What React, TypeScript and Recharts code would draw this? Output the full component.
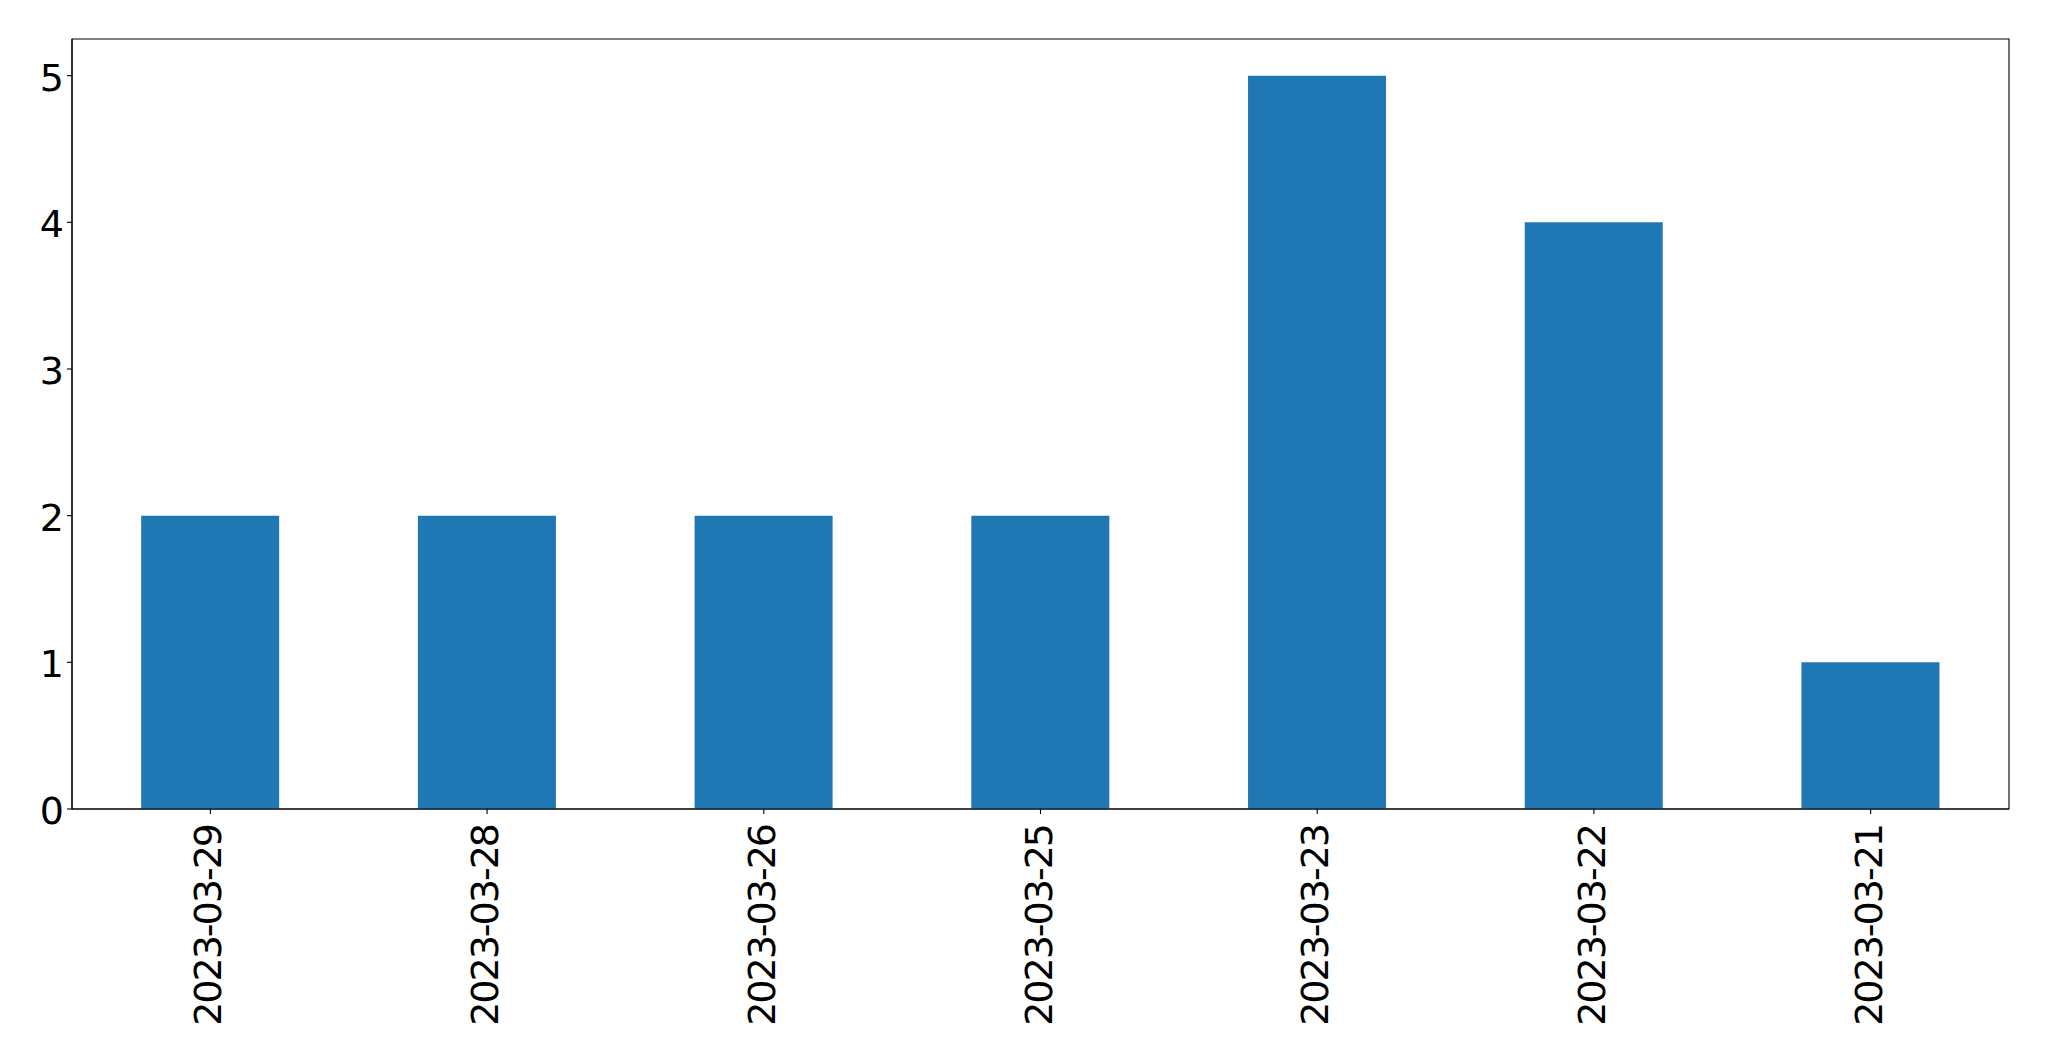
import { BarChart, Bar, XAxis, YAxis, ReferenceArea } from 'recharts';

const dates = ['2023-03-29', '2023-03-28', '2023-03-26', '2023-03-25', '2023-03-23', '2023-03-22', '2023-03-21'];
const counts = [2, 2, 2, 2, 5, 4, 1];
const yTicks = [0, 1, 2, 3, 4, 5];

const data = dates.map((date, i) => ({ date, count: counts[i] }));

const font = '"DejaVu Sans", sans-serif';

// rotated date labels, read bottom to top
function DateTick(props: any) {
  const { x, y, payload } = props;
  return (
    <text
      transform={`translate(${x},${y}) rotate(-90)`}
      textAnchor="end"
      dominantBaseline="central"
      dy={-2}
      fontFamily={font}
      fontSize={38}
      letterSpacing={-2}
      fill="#000"
    >
      {payload.value}
    </text>
  );
}

function CountTick(props: any) {
  const { x, y, payload } = props;
  return (
    <text
      x={x}
      y={y}
      dy={2}
      textAnchor="end"
      dominantBaseline="central"
      fontFamily={font}
      fontSize={38}
      fill="#000"
    >
      {payload.value}
    </text>
  );
}

export default function App() {
  return (
    <div style={{ position: 'absolute', left: 0, top: 0, background: '#fff' }}>
      <BarChart
        width={2049}
        height={1061}
        data={data}
        margin={{ top: 39, right: 40, left: 0, bottom: 0 }}
        barCategoryGap="25%"
      >
        <XAxis
          dataKey="date"
          height={252}
          tickSize={5}
          tickMargin={11}
          interval={0}
          stroke="#000"
          strokeWidth={1.1}
          tick={<DateTick />}
        />
        <YAxis
          width={72}
          domain={[0, 5.25]}
          ticks={yTicks}
          tickSize={5}
          tickMargin={3}
          stroke="#000"
          strokeWidth={1.1}
          tick={<CountTick />}
        />
        <ReferenceArea y1={0} y2={5.25} fill="none" stroke="#000" strokeWidth={1.1} ifOverflow="visible" />
        <Bar dataKey="count" fill="#1f77b4" isAnimationActive={false} />
      </BarChart>
    </div>
  );
}
